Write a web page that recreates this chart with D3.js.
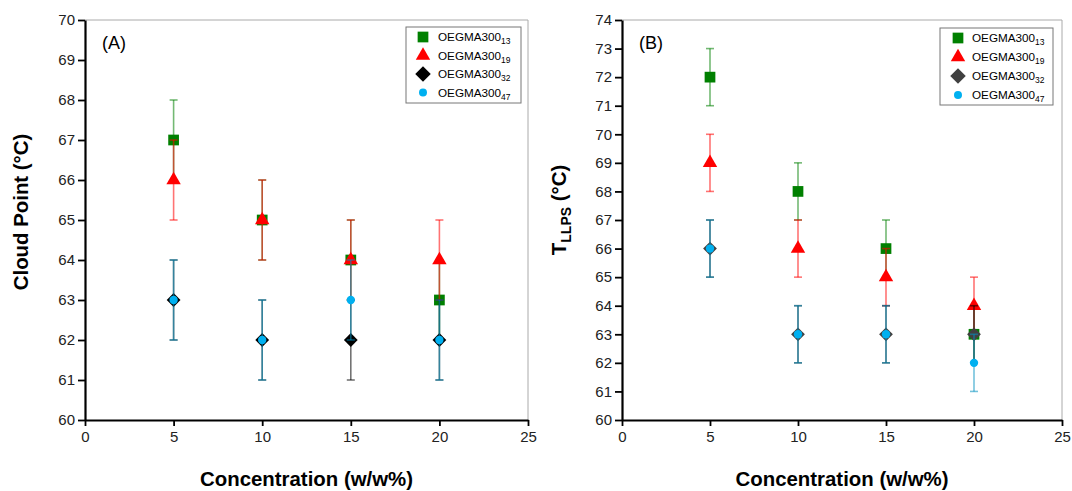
<!DOCTYPE html>
<html>
<head>
<meta charset="utf-8">
<style>
    body { margin: 0; background: #fff; }
    svg { font-family: 'Liberation Sans', Arial, sans-serif; }
    .axis .domain { stroke: #000; stroke-width: 2.2px; }
    .axis .tick line { stroke: #000; stroke-width: 1.8px; }
    .axis .tick text { font-size: 15px; fill: #222; }
    .title { font-size: 20.4px; font-weight: bold; }
    .panel-label { font-size: 18px; }
    .legend text { font-size: 11.7px; }
</style>
</head>
<body>
<svg width="1072" height="491"></svg>
<script src="https://d3js.org/d3.v7.min.js"></script>
<script>
    // concentrations (w/w%)
    let conc = [5, 10, 15, 20];
    let seriesNames = ["13", "19", "32", "47"];

    // panel A: cloud point (°C)
    let cloud13 = [67, 65, 64, 63];
    let cloud19 = [66, 65, 64, 64];
    let cloud32 = [63, 62, 62, 62];
    let cloud47 = [63, 62, 63, 62];
    let cloudErr = [1, 1, 1, 1];

    // panel B: T LLPS (°C)
    let llps13 = [72, 68, 66, 63];
    let llps19 = [69, 66, 65, 64];
    let llps32 = [66, 63, 63, 63];
    let llps47 = [66, 63, 63, 62];
    let llpsErr = [1, 1, 1, 1];

    let xTicks = [0, 5, 10, 15, 20, 25];

    let svg = d3.select("svg");

    let symbols = {
        "13": { type: d3.symbolSquare, size: 115, rot: 0, color: "#008000" },
        "19": { type: d3.symbolTriangle, size: 90, rot: 0, color: "#ff0000" },
        "32": { type: d3.symbolSquare, size: 95, rot: 45, color: "#000000" },
        "47": { type: d3.symbolCircle, size: 55, rot: 0, color: "#00b0f0" }
    };
    let errColors = { "13": "#008000", "19": "#ff0000", "32": "#000000", "47": "#0090c0" };

    function drawPanel(cfg) {
        let x = d3.scaleLinear().domain([0, 25]).range([cfg.left, cfg.right]);
        let y = d3.scaleLinear().domain(cfg.yDomain).range([420, 20]);

        // light frame top / right
        svg.append("line").attr("x1", cfg.left).attr("x2", cfg.right)
            .attr("y1", 20).attr("y2", 20).attr("stroke", "#aaa").attr("stroke-width", 1);
        svg.append("line").attr("x1", cfg.right).attr("x2", cfg.right)
            .attr("y1", 20).attr("y2", 420).attr("stroke", "#aaa").attr("stroke-width", 1);

        svg.append("g")
            .attr("class", "axis")
            .attr("transform", "translate(0,420)")
            .call(d3.axisBottom(x).tickValues(xTicks).tickSize(6).tickSizeOuter(0).tickPadding(5));

        svg.append("g")
            .attr("class", "axis")
            .attr("transform", `translate(${cfg.left},0)`)
            .call(d3.axisLeft(y).ticks(cfg.yDomain[1] - cfg.yDomain[0]).tickSize(7).tickSizeOuter(0).tickPadding(3));

        // series: error bars then markers
        cfg.series.forEach(function (s) {
            let sym = symbols[s.name];
            let pts = conc.map((c, i) => ({ x: c, y: s.values[i], e: s.err[i] }));
            let eg = svg.append("g")
                .attr("stroke", errColors[s.name])
                .attr("stroke-opacity", 0.55)
                .attr("stroke-width", 1.6);
            eg.selectAll("line.v").data(pts).join("line")
                .attr("x1", d => x(d.x)).attr("x2", d => x(d.x))
                .attr("y1", d => y(d.y - d.e)).attr("y2", d => y(d.y + d.e));
            eg.selectAll("line.top").data(pts).join("line").attr("class", "top")
                .attr("x1", d => x(d.x) - 4).attr("x2", d => x(d.x) + 4)
                .attr("y1", d => y(d.y + d.e)).attr("y2", d => y(d.y + d.e));
            eg.selectAll("line.bot").data(pts).join("line").attr("class", "bot")
                .attr("x1", d => x(d.x) - 4).attr("x2", d => x(d.x) + 4)
                .attr("y1", d => y(d.y - d.e)).attr("y2", d => y(d.y - d.e));

            let fill = s.name === "32" ? cfg.diamondColor : sym.color;
            svg.append("g").selectAll("path").data(pts).join("path")
                .attr("d", d3.symbol().type(sym.type).size(sym.size))
                .attr("transform", d => `translate(${x(d.x)},${y(d.y)}) rotate(${sym.rot})`)
                .attr("fill", fill);
        });

        svg.append("text").attr("class", "panel-label")
            .attr("x", cfg.left + 17).attr("y", 49).text(cfg.label);

        // legend
        let lg = svg.append("g").attr("class", "legend");
        lg.append("rect")
            .attr("x", cfg.legend.x).attr("y", cfg.legend.y)
            .attr("width", cfg.legend.w).attr("height", cfg.legend.h)
            .attr("fill", "#fff").attr("stroke", "#777").attr("stroke-width", 1);
        seriesNames.forEach(function (n, i) {
            let sym = symbols[n];
            let cy = cfg.legend.y + 10 + i * cfg.legend.step;
            let fill = n === "32" ? cfg.diamondColor : sym.color;
            let sz = n === "32" ? 120 : (n === "47" ? 50 : sym.size);
            lg.append("path")
                .attr("d", d3.symbol().type(sym.type).size(sz))
                .attr("transform", `translate(${cfg.legend.mx},${cy}) rotate(${sym.rot})`)
                .attr("fill", fill);
            let t = lg.append("text").attr("x", cfg.legend.tx).attr("y", cy + 4);
            t.append("tspan").text("OEGMA300");
            t.append("tspan").attr("dy", 3).attr("font-size", "8.5px").text(n);
        });

        // axis titles
        svg.append("text").attr("class", "title")
            .attr("text-anchor", "middle")
            .attr("x", (cfg.left + cfg.right) / 2).attr("y", 486)
            .text("Concentration (w/w%)");

        let yt = svg.append("text").attr("class", "title")
            .attr("text-anchor", "middle")
            .attr("transform", `translate(${cfg.yTitleX},${cfg.yTitleY}) rotate(-90)`);
        cfg.yTitle(yt);
    }

    drawPanel({
        left: 85, right: 528, yDomain: [60, 70], label: "(A)",
        diamondColor: "#000000",
        series: [
            { name: "13", values: cloud13, err: cloudErr },
            { name: "19", values: cloud19, err: cloudErr },
            { name: "32", values: cloud32, err: cloudErr },
            { name: "47", values: cloud47, err: cloudErr }
        ],
        legend: { x: 406, y: 27, w: 115, h: 76, step: 18.5, mx: 423, tx: 438 },
        yTitleX: 28, yTitleY: 212,
        yTitle: t => t.text("Cloud Point (°C)")
    });

    drawPanel({
        left: 622, right: 1062, yDomain: [60, 74], label: "(B)",
        diamondColor: "#404040",
        series: [
            { name: "13", values: llps13, err: llpsErr },
            { name: "19", values: llps19, err: llpsErr },
            { name: "32", values: llps32, err: llpsErr },
            { name: "47", values: llps47, err: llpsErr }
        ],
        legend: { x: 940, y: 28, w: 113, h: 77, step: 19, mx: 958, tx: 972 },
        yTitleX: 566, yTitleY: 210,
        yTitle: function (t) {
            t.append("tspan").text("T");
            t.append("tspan").attr("dy", 5).attr("font-size", "14px").text("LLPS");
            t.append("tspan").attr("dy", -5).text(" (°C)");
        }
    });
</script>
</body>
</html>
